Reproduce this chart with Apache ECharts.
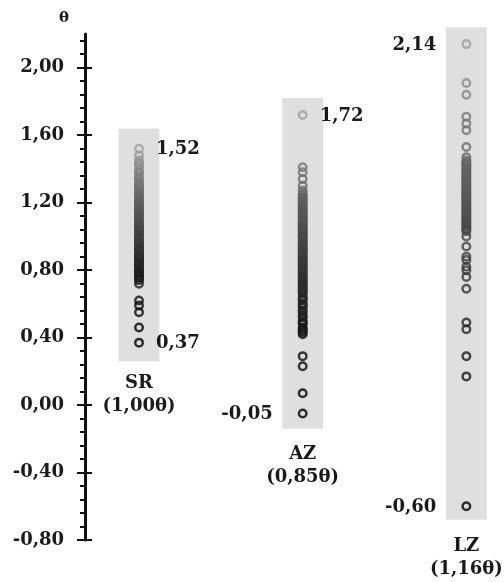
<!DOCTYPE html>
<html><head><meta charset="utf-8">
<script src="https://cdn.jsdelivr.net/npm/echarts@6/dist/echarts.min.js"></script>
<style>html,body{margin:0;padding:0;background:#fff}#c{width:504px;height:582px}</style>
</head><body><div id="c"></div>
<script>
const categories = ['SR', 'AZ', 'LZ'];
const catSubtitles = ['(1,00θ)', '(0,85θ)', '(1,16θ)'];
const srValues = [0.37, 0.46, 0.55, 0.59, 0.62, 0.72,
  0.74, 0.75, 0.76, 0.77, 0.78, 0.785, 0.79, 0.80, 0.81, 0.82, 0.83, 0.835, 0.84, 0.85,
  0.86, 0.87, 0.875, 0.88, 0.89, 0.90, 0.91, 0.92, 0.925, 0.93, 0.94, 0.95, 0.96, 0.97,
  0.98, 0.99, 1.00, 1.01, 1.02, 1.03, 1.04, 1.05, 1.06, 1.07, 1.08, 1.09, 1.10, 1.11,
  1.12, 1.13, 1.14, 1.15, 1.16, 1.17, 1.18, 1.19, 1.20, 1.21, 1.22, 1.23, 1.24, 1.25,
  1.26, 1.27, 1.28, 1.29, 1.30, 1.31, 1.32, 1.34, 1.35, 1.37, 1.38, 1.40, 1.42, 1.43,
  1.45, 1.48, 1.52];
const azValues = [-0.05, 0.07, 0.23, 0.29,
  0.42, 0.43, 0.44, 0.45, 0.46, 0.48, 0.49, 0.50, 0.52, 0.53, 0.55, 0.56, 0.58, 0.59,
  0.60, 0.62, 0.63, 0.64, 0.66, 0.67, 0.68, 0.69, 0.70, 0.71, 0.72, 0.73, 0.74, 0.75,
  0.76, 0.77, 0.78, 0.79, 0.80, 0.81, 0.82, 0.83, 0.84, 0.85, 0.86, 0.87, 0.88, 0.89,
  0.90, 0.91, 0.92, 0.93, 0.94, 0.95, 0.96, 0.97, 0.98, 0.99, 1.00, 1.01, 1.02, 1.03,
  1.04, 1.05, 1.06, 1.07, 1.08, 1.09, 1.10, 1.11, 1.12, 1.13, 1.14, 1.15, 1.16, 1.17,
  1.18, 1.19, 1.20, 1.21, 1.22, 1.23, 1.24, 1.25, 1.27, 1.30, 1.34, 1.38, 1.41, 1.72];
const lzValues = [-0.60, 0.17, 0.29, 0.45, 0.49, 0.69, 0.76, 0.80, 0.82, 0.86, 0.88,
  0.94, 1.00, 1.03, 1.04, 1.05, 1.06, 1.07, 1.08, 1.09, 1.10, 1.11, 1.12, 1.13, 1.14,
  1.15, 1.16, 1.17, 1.18, 1.19, 1.20, 1.21, 1.22, 1.23, 1.24, 1.25, 1.26, 1.27, 1.28,
  1.29, 1.30, 1.31, 1.32, 1.33, 1.34, 1.35, 1.36, 1.37, 1.38, 1.39, 1.40, 1.41, 1.42,
  1.43, 1.44, 1.45, 1.47, 1.53, 1.63, 1.67, 1.71, 1.84, 1.91, 2.14];
const rectLow = [0.26, -0.14, -0.68];
const rectHigh = [1.64, 1.82, 2.24];
const tickValues = [-0.8, -0.4, 0, 0.4, 0.8, 1.2, 1.6, 2.0];
const axisMin = -0.8, axisMax = 2.2, axisInterval = 0.4;

const seriesValues = [srValues, azValues, lzValues];
const FONT = 'bold 18px "DejaVu Serif"';
const TXT = '#1a1a1a';
// label side for [max, min] of each column
const labelSide = [['right', 'right'], ['right', 'left'], ['left', 'left']];

function fmt(v) { return v.toFixed(2).replace('.', ','); }
function shade(v, lo, hi) {
  const t = Math.pow((v - lo) / (hi - lo), 1.5);
  const g = Math.round(160 * t);
  return 'rgb(' + g + ',' + g + ',' + g + ')';
}

const chart = echarts.init(document.getElementById('c'), null, { renderer: 'canvas' });

const rectData = categories.map((c, i) => {
  const vals = seriesValues[i];
  return [i + 1, rectLow[i], rectHigh[i], i, Math.min(...vals), Math.max(...vals)];
});

const series = [{
  type: 'custom',
  z: 1,
  silent: true,
  clip: false,
  data: rectData,
  renderItem: function (params, api) {
    const x = api.value(0);
    const i = api.value(3);
    const vmin = api.value(4), vmax = api.value(5);
    const top = api.coord([x, api.value(2)]);
    const bot = api.coord([x, api.value(1)]);
    const hw = api.size([0.125, 0])[0];
    const pMax = api.coord([x, vmax]);
    const pMin = api.coord([x, vmin]);
    const side = labelSide[i];
    function lab(p, v, s) {
      return {
        type: 'text',
        style: {
          text: fmt(v), x: s === 'right' ? p[0] + 17 : p[0] - 30, y: p[1] + 1,
          align: s === 'right' ? 'left' : 'right', verticalAlign: 'middle',
          font: FONT, fill: TXT
        }
      };
    }
    return {
      type: 'group',
      children: [
        { type: 'rect', shape: { x: top[0] - hw, y: top[1], width: 2 * hw, height: bot[1] - top[1] },
          style: { fill: '#dfdfdf' } },
        lab(pMax, vmax, side[0]),
        lab(pMin, vmin, side[1]),
        { type: 'text', style: {
            text: categories[i] + '\n' + catSubtitles[i], x: pMin[0], y: pMin[1] + 29,
            align: 'center', verticalAlign: 'top', font: FONT, lineHeight: 23, fill: TXT } }
      ]
    };
  }
}];

seriesValues.forEach((vals, i) => {
  const lo = Math.min(...vals), hi = Math.max(...vals);
  series.push({
    type: 'scatter',
    z: 3,
    silent: true,
    symbol: 'circle',
    symbolSize: 7.5,
    data: vals.slice().sort((a, b) => b - a).map(v => ({
      value: [i + 1, v],
      itemStyle: { color: 'rgba(0,0,0,0)', borderColor: shade(v, lo, hi), borderWidth: 2.5 }
    }))
  });
});

chart.setOption({
  animation: false,
  backgroundColor: '#fff',
  grid: { left: 85, right: 0, top: 34, bottom: 42, outerBoundsMode: 'none' },
  xAxis: { type: 'value', min: 0.67, max: 3.23, show: false },
  yAxis: [{
    type: 'value', min: axisMin, max: axisMax, interval: axisInterval,
    name: 'θ', nameLocation: 'end', nameGap: 8,
    nameTextStyle: { fontFamily: 'DejaVu Serif', fontWeight: 'bold', fontSize: 15, color: TXT, align: 'right', padding: [0, 16, 0, 0] },
    axisLine: { show: true, lineStyle: { color: '#111', width: 3 } },
    axisTick: { show: true, length: 8, lineStyle: { color: '#111', width: 2 }, customValues: tickValues },
    minorTick: { show: true, splitNumber: 5, length: 5, lineStyle: { color: '#111', width: 2 } },
    splitLine: { show: false }, minorSplitLine: { show: false },
    axisLabel: { customValues: tickValues, formatter: v => fmt(v), margin: 21,
      fontFamily: 'DejaVu Serif', fontWeight: 'bold', fontSize: 18, color: TXT }
  }, {
    type: 'value', min: axisMin, max: axisMax, interval: axisInterval,
    position: 'right', offset: -419,
    axisLine: { show: false },
    axisTick: { show: true, inside: false, length: 7, lineStyle: { color: '#111', width: 2 }, customValues: tickValues },
    axisLabel: { show: false }, splitLine: { show: false }
  }],
  series: series
});
</script>
</body></html>
